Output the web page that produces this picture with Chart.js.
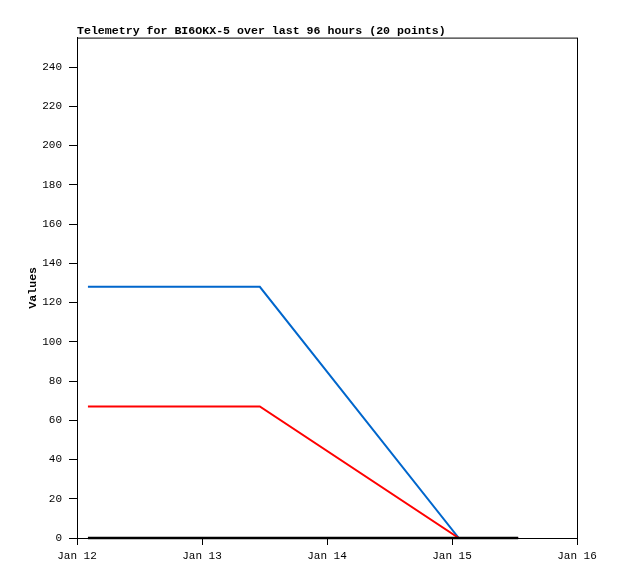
<!DOCTYPE html>
<html><head><meta charset="utf-8">
<script src="https://cdn.jsdelivr.net/npm/chart.js@4/dist/chart.umd.min.js"></script>
<style>html,body{margin:0;padding:0;background:#fff}canvas{display:block}</style>
</head><body>
<canvas id="c" width="618" height="579"></canvas>
<script>
// hours since Jan 12 00:00
const timesHours = [2.1, 35.1, 73.3, 84.7];
const blueValues = [128, 128, 0, 0];
const redValues = [67, 67, 0, 0];
const blackValues = [0, 0, 0, 0];
const xTickLabels = ['Jan 12', 'Jan 13', 'Jan 14', 'Jan 15', 'Jan 16'];
const titleText = 'Telemetry for BI6OKX-5 over last 96 hours (20 points)';
const yTitle = 'Values';

const toPts = vals => vals.map((v, i) => ({x: timesHours[i], y: v}));
const FONT = "'Liberation Mono', 'DejaVu Sans Mono', monospace";

const borderPlugin = {
  id: 'box',
  afterDraw(chart) {
    const a = chart.chartArea, ctx = chart.ctx;
    ctx.save();
    ctx.strokeStyle = '#000';
    ctx.lineWidth = 1;
    ctx.strokeRect(a.left + 0.5, a.top + 0.5, a.right - a.left, a.bottom - a.top);
    ctx.restore();
  }
};

new Chart(document.getElementById('c'), {
  type: 'line',
  data: {
    datasets: [
      {data: toPts(blackValues), borderColor: '#000000', borderWidth: 2.5, pointRadius: 0, tension: 0, clip: false, order: 0},
      {data: toPts(redValues), borderColor: '#ff0000', borderWidth: 2, pointRadius: 0, tension: 0, clip: false, order: 1},
      {data: toPts(blueValues), borderColor: '#0066cc', borderWidth: 2, pointRadius: 0, tension: 0, clip: false, order: 2}
    ]
  },
  options: {
    responsive: false,
    animation: false,
    layout: {padding: {left: 0, right: 41, top: 0, bottom: 0}},
    plugins: {
      legend: {display: false},
      tooltip: {enabled: false},
      title: {
        display: true, text: titleText, align: 'start', fullSize: false,
        color: '#000', font: {family: FONT, size: 11.6, weight: 'bold', lineHeight: 1},
        padding: {top: 25, bottom: 1}
      }
    },
    scales: {
      x: {
        type: 'linear', min: 0, max: 96,
        afterFit(s) { s.height = 41; },
        grid: {drawOnChartArea: false, tickLength: 7, color: '#000'},
        border: {color: '#000'},
        ticks: {
          stepSize: 24, color: '#000', font: {family: FONT, size: 11}, padding: 4,
          maxRotation: 0,
          callback: v => xTickLabels[Math.round(v / 24)]
        }
      },
      y: {
        min: 0, max: 255,
        afterFit(s) { s.width = 77; },
        afterBuildTicks(s) { s.ticks = s.ticks.filter(t => t.value % 20 === 0); },
        grid: {drawOnChartArea: false, tickLength: 8, color: '#000'},
        border: {color: '#000'},
        title: {display: true, text: yTitle, color: '#000', font: {family: FONT, size: 11.6, weight: 'bold', lineHeight: 1}, padding: {top: 27, bottom: 0}},
        ticks: {stepSize: 20, color: '#000', font: {family: FONT, size: 11}, padding: 7}
      }
    }
  },
  plugins: [borderPlugin]
});
</script>
</body></html>
